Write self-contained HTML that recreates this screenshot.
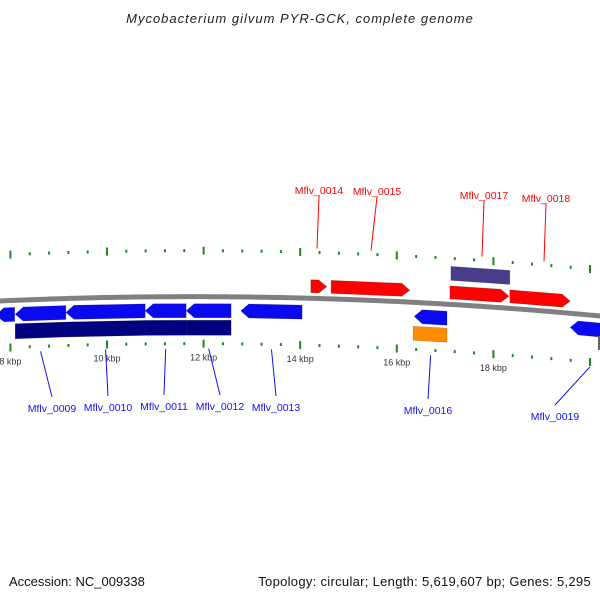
<!DOCTYPE html>
<html><head><meta charset="utf-8"><style>
body{margin:0;background:#fff;width:600px;height:600px;overflow:hidden;font-family:"Liberation Sans","DejaVu Sans",sans-serif}
</style></head><body>
<svg id="map" width="600" height="600" xmlns="http://www.w3.org/2000/svg">
<text x="300" y="23" text-anchor="middle" font-size="13" letter-spacing="1" font-style="italic" fill="#222">Mycobacterium gilvum PYR-GCK, complete genome</text>
<text x="9" y="586" font-size="13" fill="#111">Accession: NC_009338</text>
<text x="591" y="586" text-anchor="end" font-size="13" letter-spacing="0.3" fill="#111">Topology: circular; Length: 5,619,607 bp; Genes: 5,295</text>
<g id="g"></g>
</svg>
<script>
const tickKb=[8,10,12,14,16,18];
const revGenes=[[7.70,8.09,""],[8.10,9.15,"Mflv_0009"],[9.15,10.79,"Mflv_0010"],[10.79,11.64,"Mflv_0011"],[11.64,12.57,"Mflv_0012"],[12.77,14.04,"Mflv_0013"],[16.36,17.04,"Mflv_0016"],[19.59,20.4,"Mflv_0019"]];
const fwdGenes=[[14.22,14.55,"Mflv_0014"],[14.64,16.27,"Mflv_0015"],[17.10,18.32,"Mflv_0017"],[18.34,19.59,"Mflv_0018"]];
const navySegs=[[8.10,9.15],[9.15,10.79],[10.79,11.64],[11.64,12.57]];
const lavSegs=[[17.12,18.34]];
const orangeSegs=[[16.34,17.04]];
const revLabelPos=[[0,0],[52,408],[108,407],[164,406],[220,406],[276,407],[428,410],[555,416]];
const fwdLabelPos=[[319,190],[377,191],[484,195],[546,198]];

const NS="http://www.w3.org/2000/svg";
const G=document.getElementById('g');
function X(kb){return 107+(kb-10)*48.3;}
function F(x){return 1.1667e-4*x*x-0.045*x+301;}
function mk(t,a){const e=document.createElementNS(NS,t);for(const k in a)e.setAttribute(k,a[k]);G.appendChild(e);return e;}
let d="";for(let x=-5;x<=605;x+=5)d+=(x==-5?"M":"L")+x+","+F(x).toFixed(2);
let bb=mk('path',{d:d,stroke:'#808080','stroke-width':5,fill:'none'});


function box(x1,x2,off,h,dir,fill){
  const tip=8;let a=x1,b=x2;
  let pts=[];
  if(dir>0){const bt=Math.max(a,b-tip);pts=[[a,-h/2],[bt,-h/2],[b,0],[bt,h/2],[a,h/2]];}
  else if(dir<0){const at=Math.min(b,a+tip);pts=[[a,0],[at,-h/2],[b,-h/2],[b,h/2],[at,h/2]];}
  else pts=[[a,-h/2],[b,-h/2],[b,h/2],[a,h/2]];
  return mk('polygon',{points:pts.map(p=>p[0].toFixed(1)+","+(F(p[0])+off+p[1]).toFixed(1)).join(" "),fill:fill,stroke:'rgba(0,0,0,0.25)','stroke-width':0.6});
}
for(let i=0;i<=40;i++){
  const kb=6+i*0.4;const x=X(kb);if(x<0||x>600)continue;
  const major=(i%5)===0;
  const L=major?8:3;
  let t1=mk('line',{x1:x,x2:x,y1:F(x)-46-L/2,y2:F(x)-46+L/2,stroke:'#1a8a1a','stroke-width':2});
  
  
  let t2=mk('line',{x1:x,x2:x,y1:F(x)+47-L/2,y2:F(x)+47+L/2,stroke:'#1a8a1a','stroke-width':2});
  
  
}
tickKb.forEach(kb=>{const x=X(kb);
  let t=mk('text',{x:x,y:F(x)+64,'text-anchor':'middle','font-size':9,fill:'#333'});t.textContent=kb+" kbp";
  
  
});
revGenes.forEach((g,i)=>{
  let p=box(X(g[0]),X(g[1]),14,14,-1,'#0a0af0');
  
  
  if(g[2]){const lp=revLabelPos[i];const gx=(X(g[0])+X(g[1]))/2;
    let ln=mk('line',{x1:gx,y1:F(gx)+52,x2:lp[0],y2:lp[1]-11,stroke:'#1010f0','stroke-width':1});
    
    
    let t=mk('text',{x:lp[0],y:lp[1]+4,'text-anchor':'middle','font-size':10.5,fill:'#1010f0'});t.textContent=g[2];
    
    
  }
});
fwdGenes.forEach((g,i)=>{
  let p=box(X(g[0]),X(g[1]),-12,13,1,'#f00');
  
  
  const lp=fwdLabelPos[i];
  let ln=mk('line',{x1:lp[0],y1:lp[1]+6,x2:lp[0]-2+(i==1?-4:0),y2:F(lp[0])-50,stroke:'#f00','stroke-width':1});
  
  
  let t=mk('text',{x:lp[0],y:lp[1]+4,'text-anchor':'middle','font-size':10.5,fill:'#f00'});t.textContent=g[2];
  
  
});
navySegs.forEach(s=>{let p=box(X(s[0]),X(s[1]),31,15,0,'#000080');
  
  });
lavSegs.forEach(s=>{let p=box(X(s[0]),X(s[1]),-31,14,0,'#483d8b');
  
  });
orangeSegs.forEach(s=>{let p=box(X(s[0]),X(s[1]),31,14,0,'#ff8c00');
  
  });
let gb=mk('rect',{x:598,y:336,width:4,height:14,fill:'#666'});


</script>
</body></html>
